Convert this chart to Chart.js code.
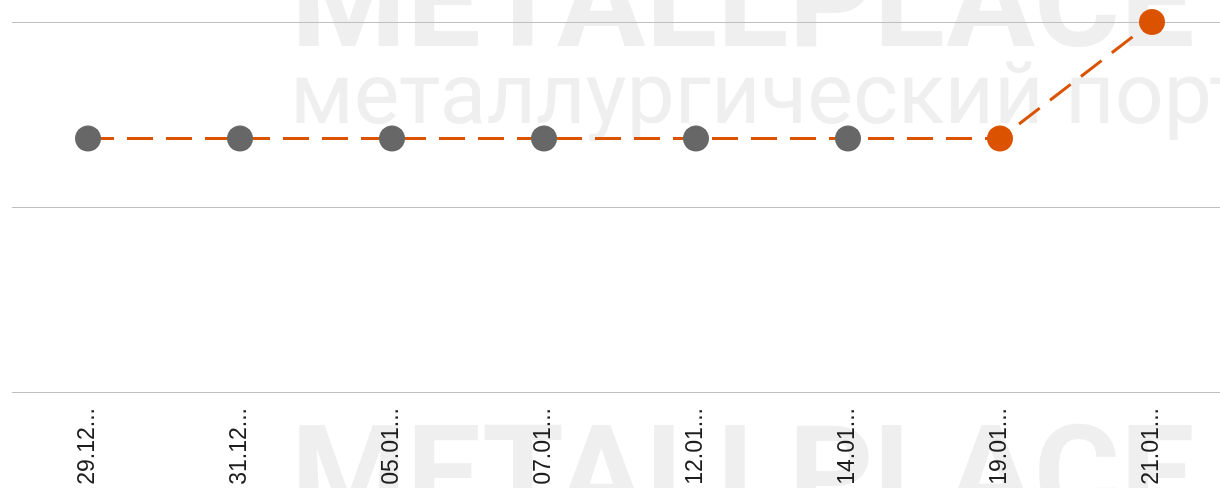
<!DOCTYPE html>
<html>
<head>
<meta charset="utf-8">
<script src="https://cdn.jsdelivr.net/npm/chart.js@4.4.1/dist/chart.umd.min.js"></script>
<style>
  html, body { margin: 0; padding: 0; background: #fff; overflow: hidden; }
  #frame { width: 1220px; height: 488px; overflow: hidden; position: relative; }
  #wrap { position: absolute; left: 0; top: 0; width: 1232px; height: 488px; }
</style>
</head>
<body>
<div id="frame"><div id="wrap"><canvas id="priceChart"></canvas></div></div>
<script>
const dates = ['29.12...', '31.12...', '05.01...', '07.01...', '12.01...', '14.01...', '19.01...', '21.01...'];
const prices = [1.37, 1.37, 1.37, 1.37, 1.37, 1.37, 1.37, 2];
const yTicks = [0, 1, 2];

const orange = '#db5300';
const grey = '#676767';

// grey for history, orange for the last two points
const pointColors = prices.map((v, i) => i >= prices.length - 2 ? orange : grey);

// faint watermark behind the chart
const watermark = {
  id: 'watermark',
  beforeDraw(c) {
    const ctx = c.ctx;
    ctx.save();
    ctx.fillStyle = '#efefef';
    ctx.textBaseline = 'alphabetic';
    ctx.font = 'bold 132px Roboto';
    ctx.fillText('METALLPLACE', 291, 46);
    ctx.font = '86px Roboto';
    ctx.fillText('металлургический портал', 290, 123);
    ctx.font = 'bold 132px Roboto';
    ctx.fillText('METALLPLACE', 291, 519);
    ctx.restore();
  }
};

const ctx = document.getElementById('priceChart').getContext('2d');
const chart = new Chart(ctx, {
  type: 'line',
  data: {
    labels: dates,
    datasets: [{
      data: prices,
      borderColor: orange,
      borderWidth: 3,
      borderDash: [26, 13],
      pointRadius: 13,
      pointHoverRadius: 13,
      pointBorderWidth: 0,
      pointBackgroundColor: pointColors,
      tension: 0,
      clip: false
    }]
  },
  options: {
    responsive: true,
    maintainAspectRatio: false,
    animation: false,
    // no auto padding for the big points, plot runs to the edge
    layout: { autoPadding: false, padding: { left: 12, right: 4, top: 22, bottom: 0 } },
    plugins: { legend: { display: false }, tooltip: { enabled: false } },
    scales: {
      x: {
        offset: true,
        grid: { display: false },
        border: { display: false },
        ticks: {
          autoSkip: false,
          minRotation: 90,
          maxRotation: 90,
          padding: 8,
          color: '#1e1e1e',
          font: { family: 'Liberation Sans, Arial', size: 23 }
        },
        afterFit(axis) {
          axis.height = 96;
          axis.paddingLeft = 0;
          axis.paddingRight = 0;
        }
      },
      y: {
        min: yTicks[0],
        max: yTicks[yTicks.length - 1],
        afterBuildTicks(axis) { axis.ticks = yTicks.map(v => ({ value: v })); },
        grid: { color: '#bfbfbf', lineWidth: 1, drawTicks: false },
        border: { display: false },
        ticks: { display: false },
        afterFit(axis) { axis.width = 0; }
      }
    }
  },
  plugins: [watermark]
});
</script>
</body>
</html>
